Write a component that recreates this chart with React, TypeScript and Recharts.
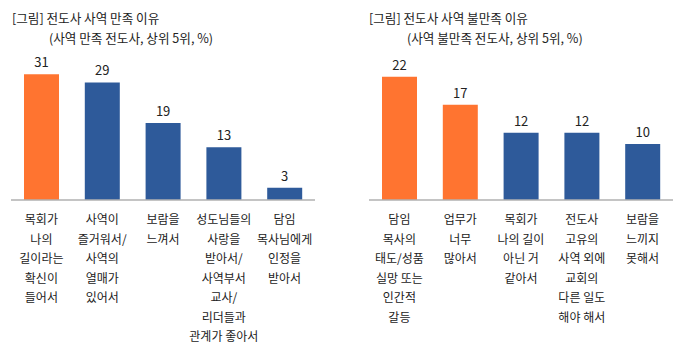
import React from 'react';
import { BarChart, Bar, XAxis, YAxis, Cell, LabelList } from 'recharts';

const leftCategories = [
  '목회가\n나의\n길이라는\n확신이\n들어서',
  '사역이\n즐거워서/\n사역의\n열매가\n있어서',
  '보람을\n느껴서',
  '성도님들의\n사랑을\n받아서/\n사역부서\n교사/\n리더들과\n관계가 좋아서',
  '담임\n목사님에게\n인정을\n받아서',
];
const leftValues = [31, 29, 19, 13, 3];
const leftHighlight = [true, false, false, false, false];

const rightCategories = [
  '담임\n목사의\n태도/성품\n실망 또는\n인간적\n갈등',
  '업무가\n너무\n많아서',
  '목회가\n나의 길이\n아닌 거\n같아서',
  '전도사\n고유의\n사역 외에\n교회의\n다른 일도\n해야 해서',
  '보람을\n느끼지\n못해서',
];
const rightValues = [22, 17, 12, 12, 10];
const rightHighlight = [true, true, false, false, false];

const ORANGE = '#FF7430';
const BLUE = '#2E5A9A';
const FONT = '"Noto Sans CJK KR", "Noto Sans", sans-serif';

const MultiTick = (props: any) => {
  const { x, y, payload } = props;
  const lines = String(payload.value).split('\n');
  return (
    <text x={x} y={y} textAnchor="middle" fill="#222" fontSize={12} fontFamily={FONT}>
      {lines.map((l, i) => (
        <tspan key={i} x={x} y={y + 16 + i * 19.5}>
          {l}
        </tspan>
      ))}
    </text>
  );
};

function Panel({ categories, values, highlight, max, left, width, marginLeft, marginRight }: any) {
  const data = categories.map((c: string, i: number) => ({ name: c, value: values[i] }));
  return (
    <div style={{ position: 'absolute', left, top: 0 }}>
      <BarChart
        width={width}
        height={351}
        data={data}
        margin={{ top: 50, right: marginRight, left: marginLeft, bottom: 11 }}
        barCategoryGap={13}
      >
        <XAxis
          dataKey="name"
          height={140}
          interval={0}
          tickLine={false}
          axisLine={{ stroke: '#B0B0B0', strokeWidth: 1.5 }}
          tick={<MultiTick />}
        />
        <YAxis hide width={0} domain={[0, max]} />
        <Bar dataKey="value" isAnimationActive={false}>
          {data.map((_: any, i: number) => (
            <Cell key={i} fill={highlight[i] ? ORANGE : BLUE} />
          ))}
          <LabelList
            dataKey="value"
            position="top"
            offset={7}
            fill="#222"
            fontSize={13}
            fontFamily={FONT}
          />
        </Bar>
      </BarChart>
    </div>
  );
}

const titleStyle: React.CSSProperties = {
  position: 'absolute',
  fontFamily: FONT,
  fontSize: 12.6,
  color: '#222',
  whiteSpace: 'nowrap',
  lineHeight: '16px',
};

export default function App() {
  return (
    <div style={{ position: 'absolute', left: 0, top: 0, width: 685, height: 351, background: '#fff', overflow: 'hidden' }}>
      <div style={{ ...titleStyle, left: 12, top: 10 }}>[그림] 전도사 사역 만족 이유</div>
      <div style={{ ...titleStyle, left: 49, top: 30 }}>(사역 만족 전도사, 상위 5위, %)</div>
      <div style={{ ...titleStyle, left: 369, top: 10 }}>[그림] 전도사 사역 불만족 이유</div>
      <div style={{ ...titleStyle, left: 407, top: 30 }}>(사역 불만족 전도사, 상위 5위, %)</div>
      <Panel
        categories={leftCategories}
        values={leftValues}
        highlight={leftHighlight}
        max={37}
        left={0}
        width={340}
        marginLeft={11}
        marginRight={25}
      />
      <Panel
        categories={rightCategories}
        values={rightValues}
        highlight={rightHighlight}
        max={26.8}
        left={340}
        width={345}
        marginLeft={29}
        marginRight={12}
      />
    </div>
  );
}
